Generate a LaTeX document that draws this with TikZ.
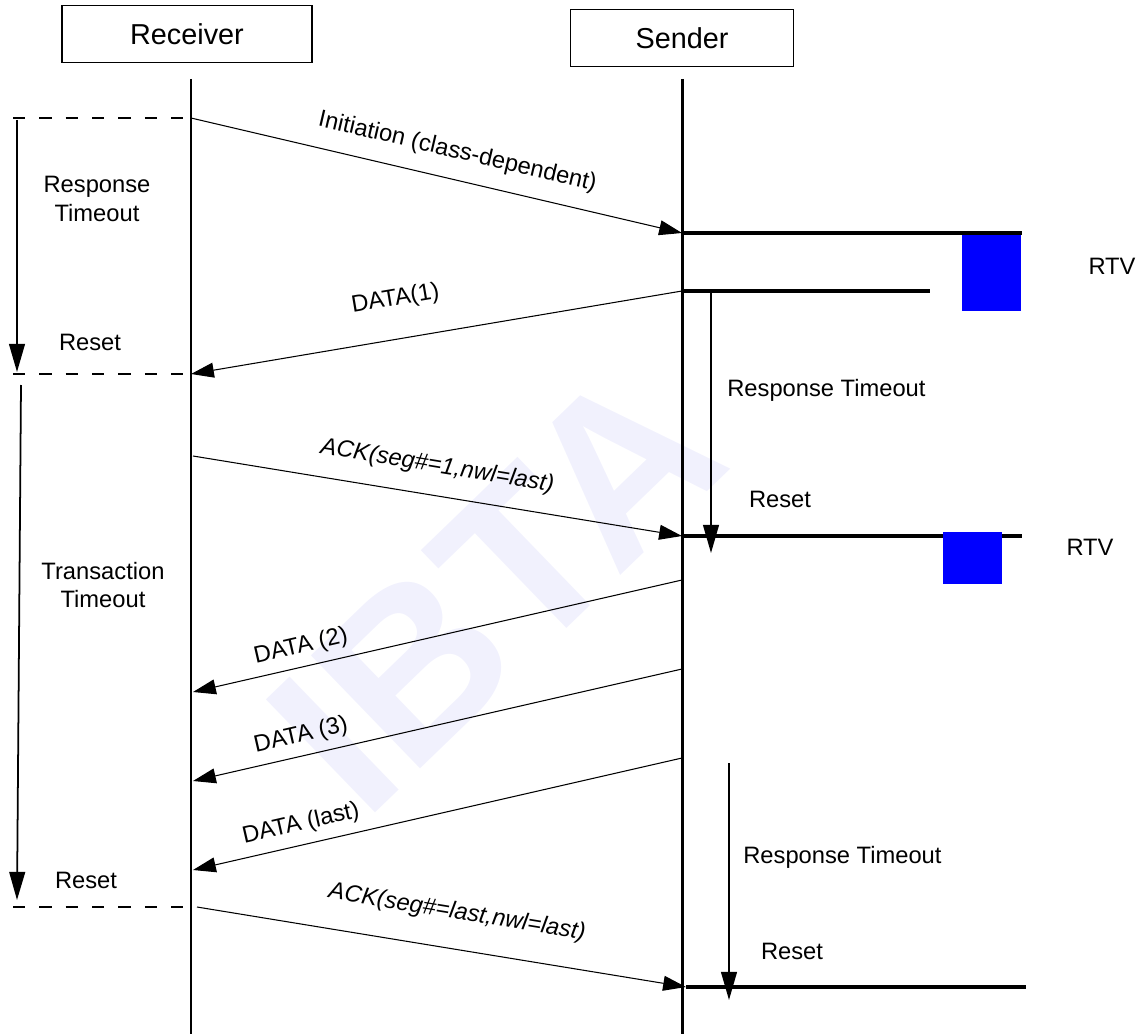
\documentclass[tikz,border=0pt]{standalone}
\usepackage{fontspec}
\setmainfont{Liberation Sans}
\usetikzlibrary{positioning, calc, arrows.meta}

\definecolor{rtvblue}{RGB}{0,0,255}
\definecolor{wmark}{RGB}{241,241,253}

\begin{document}
\begin{tikzpicture}[
  x=0.02cm, y=-0.02cm,
  font=\fontsize{13.5}{16}\selectfont,
  party/.style={draw, line width=0.9pt, minimum height=1.14cm,
    font=\fontsize{16.4}{18}\selectfont},
  lifeline/.style={line width=1.7pt},
  msg/.style={line width=0.6pt, -{Triangle[length=13pt,width=8.5pt]}},
  timer/.style={line width=1pt, -{Triangle[length=16pt,width=9pt]}},
  bar/.style={line width=2.8pt},
  guide/.style={line width=0.9pt, dash pattern=on 7pt off 8pt},
  lbl/.style={sloped, above=5pt, inner sep=0pt},
]
\useasboundingbox (0,0) rectangle (1143,1034);

% lifeline x positions (px)
\pgfmathsetmacro{\xR}{191}
\pgfmathsetmacro{\xS}{682}

% ---- watermark ----
\node[wmark, rotate=44, font=\fontsize{130}{130}\selectfont\bfseries] (mark) at (495,588) {IBTA};

% ---- parties ----
\node[party, minimum width=5cm] (recv) at (187,34) {Receiver};
\node[party, minimum width=4.46cm] (send) at (682,38) {Sender};

\coordinate (R0) at (\xR,79);
\coordinate (R1) at (\xR,1034);
\coordinate (S0) at (\xS,79);
\coordinate (S1) at (\xS,1034);
\draw[lifeline] (R0) -- (R1);
\draw[lifeline] (S0) -- (S1);

% ---- receiver timers ----
\coordinate (g1a) at (13,118);  \coordinate (g1b) at (\xR,118);
\coordinate (g2a) at (13,374);  \coordinate (g2b) at (\xR,374);
\coordinate (g3a) at (13,907);  \coordinate (g3b) at (\xR,907);
\draw[guide] (g1a) -- (g1b);
\draw[guide] (g2a) -- (g2b);
\draw[guide] (g3a) -- (g3b);
\draw[timer] (17,120) coordinate (t1a) -- (17,372) coordinate (t1b);
\draw[timer] (21,385) coordinate (t2a) -- (17,900) coordinate (t2b);
\node[align=center] (rto) at (97,199) {Response\\Timeout};
\node (rreset1) at (90,342) {Reset};
\node[align=center] (tto) at (103,585) {Transaction\\Timeout};
\node (rreset2) at (86,880) {Reset};

% ---- sender timelines ----
\draw[bar] (\xS,233) coordinate (b1) -- (1022,233);
\draw[bar] (\xS,291) coordinate (b2) -- (930,291);
\draw[bar] (\xS,536) coordinate (b3) -- (1022,536);
\draw[bar] (686,987) coordinate (b4) -- (1026,987);
\fill[rtvblue] (962,235) rectangle (1021,311);
\fill[rtvblue] (943,532) rectangle (1002,584);
\node (rtv1) at (1112,266) {RTV};
\node (rtv2) at (1090,547) {RTV};

% ---- sender timers ----
\draw[timer] (711,293) coordinate (s1a) -- (711,553) coordinate (s1b);
\draw[timer] (729,763) coordinate (s2a) -- (729,1000) coordinate (s2b);
\node[anchor=west, inner sep=0pt] (sto1) at (727,390) {Response Timeout};
\node (sreset1) at (780,499) {Reset};
\node[anchor=west, inner sep=0pt] (sto2) at (743,857) {Response Timeout};
\node (sreset2) at (792,951) {Reset};

% ---- messages ----
\draw[msg] (g1b) -- node[lbl, pos=0.53, above=9pt] {Initiation (class-dependent)} (b1);
\draw[msg] (b2) -- node[lbl, pos=0.57, above=16pt] {DATA(1)} (g2b);
\draw[msg] (\xR+2,456) coordinate (a1) -- node[lbl, pos=0.49, above=10pt] {\itshape ACK(seg\#=1,nwl=last)} (b3);
\foreach \ys/\txt [count=\k] in {580/{DATA (2)}, 669/{DATA (3)}, 758/{DATA (last)}} {
  \coordinate (d\k s) at (\xS,\ys);
  \coordinate (d\k r) at (\xR+2,\ys+112);
  \draw[msg] (d\k s) -- node[lbl, pos=0.77] {\txt} (d\k r);
}
\draw[msg] (\xR+6,907) coordinate (a2) -- node[lbl, pos=0.52, above=14pt] {\itshape ACK(seg\#=last,nwl=last)} (b4);

\end{tikzpicture}
\end{document}
